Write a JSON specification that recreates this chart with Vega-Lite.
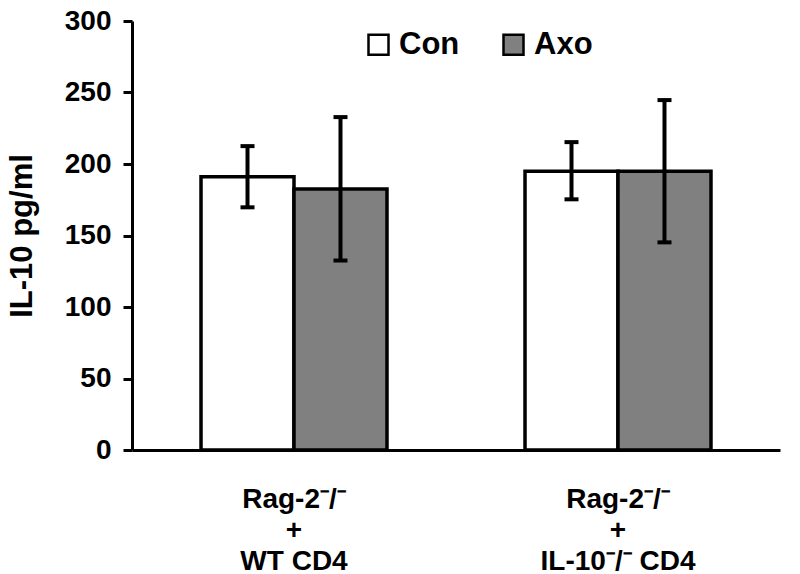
{
  "$schema": "https://vega.github.io/schema/vega-lite/v6.json",
  "autosize": {"type": "none"},
  "padding": {"left": 132, "top": 21, "right": 20, "bottom": 124},
  "width": 648,
  "height": 429,
  "background": "white",
  "config": {
    "view": {"stroke": null},
    "font": "Liberation Sans"
  },
  "data": {
    "values": [
      {"group": "WT", "treatment": "Con", "mean": 191, "lo": 169.7, "hi": 212.5},
      {"group": "WT", "treatment": "Axo", "mean": 182.5, "lo": 132.5, "hi": 232.8},
      {"group": "IL10", "treatment": "Con", "mean": 195, "lo": 175.3, "hi": 215.3},
      {"group": "IL10", "treatment": "Axo", "mean": 195, "lo": 145.2, "hi": 244.7}
    ]
  },
  "encoding": {
    "x": {
      "field": "group",
      "type": "nominal",
      "sort": ["WT", "IL10"],
      "scale": {"paddingInner": 0.426, "paddingOuter": 0.213},
      "axis": {
        "title": null,
        "labelAngle": 0,
        "domainColor": "black",
        "domainWidth": 3,
        "ticks": false,
        "labelPadding": 57,
        "labelFont": "Liberation Sans",
        "labelFontSize": 28,
        "labelFontWeight": "bold",
        "labelColor": "black",
        "labelLineHeight": 31,
        "labelBaseline": "alphabetic",
        "labelExpr": "datum.value == 'WT' ? ['Rag-2⁻/⁻', '+', 'WT CD4'] : ['Rag-2⁻/⁻', '+', 'IL-10⁻/⁻ CD4']"
      }
    },
    "xOffset": {"field": "treatment", "type": "nominal", "sort": ["Con", "Axo"]}
  },
  "layer": [
    {
      "mark": {"type": "bar", "stroke": "black", "strokeWidth": 3.5},
      "encoding": {
        "y": {
          "field": "mean",
          "type": "quantitative",
          "scale": {"domain": [0, 300]},
          "axis": {
            "title": "IL-10 pg/ml",
            "titleFontSize": 31,
            "titleFontWeight": "bold",
            "titleColor": "black",
            "titlePadding": 26,
            "values": [0, 50, 100, 150, 200, 250, 300],
            "grid": false,
            "domainColor": "black",
            "domainWidth": 3,
            "tickColor": "black",
            "tickWidth": 3,
            "tickSize": 9,
            "labelFontSize": 28,
            "labelFontWeight": "bold",
            "labelColor": "black",
            "labelPadding": 12
          }
        },
        "fill": {
          "field": "treatment",
          "type": "nominal",
          "sort": ["Con", "Axo"],
          "scale": {"domain": ["Con", "Axo"], "range": ["white", "#808080"]},
          "legend": {
            "title": null,
            "orient": "none",
            "direction": "horizontal",
            "legendX": 231,
            "legendY": 8,
            "symbolType": "square",
            "symbolSize": 400,
            "symbolStrokeColor": "black",
            "symbolStrokeWidth": 2.5,
            "symbolOpacity": 1,
            "labelFontSize": 31,
            "labelFontWeight": "bold",
            "labelColor": "black",
            "labelOffset": 5,
            "columnPadding": 38
          }
        }
      }
    },
    {
      "mark": {"type": "rule", "color": "black", "strokeWidth": 4},
      "encoding": {
        "y": {"field": "lo", "type": "quantitative"},
        "y2": {"field": "hi"}
      }
    },
    {
      "mark": {"type": "tick", "color": "black", "thickness": 4, "size": 14, "opacity": 1},
      "encoding": {
        "y": {"field": "lo", "type": "quantitative"}
      }
    },
    {
      "mark": {"type": "tick", "color": "black", "thickness": 4, "size": 14, "opacity": 1},
      "encoding": {
        "y": {"field": "hi", "type": "quantitative"}
      }
    }
  ]
}
